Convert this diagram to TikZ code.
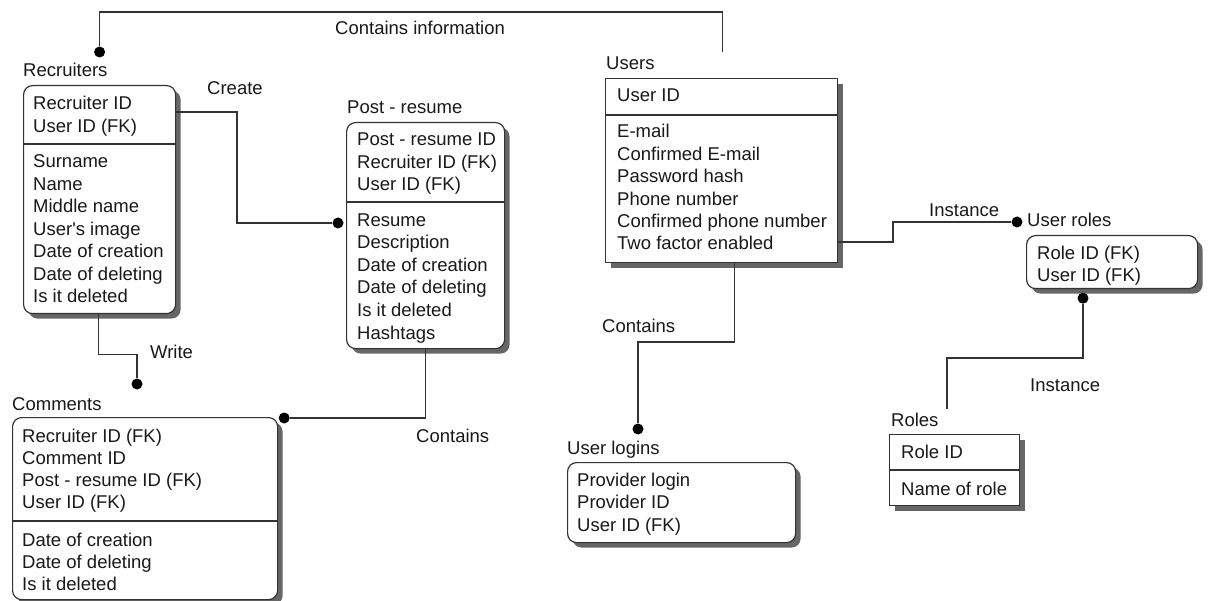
\documentclass[tikz,border=0pt]{standalone}
\usepackage{fontspec}
\setmainfont{Liberation Sans}
\usetikzlibrary{calc,shadows}

\tikzset{
  entity/.style={draw=black!80, line width=1.2pt, fill=white, inner sep=0pt,
    anchor=north west,
    drop shadow={shadow xshift=5pt, shadow yshift=-5pt, fill=black!60, opacity=1}},
  dependent/.style={entity, rounded corners=9pt},
  field/.style={anchor=base west, inner sep=0pt,
    font=\fontsize{18.5}{22.5}\selectfont, text=black!90},
  entname/.style={field},
  divider/.style={draw=black!80, line width=1.2pt},
  rel/.style={draw=black!80, line width=1.2pt},
  conndot/.style={circle, fill=black, inner sep=0pt, minimum size=11pt},
}

\begin{document}
\begin{tikzpicture}[x=1pt, y=-1pt]
\useasboundingbox (0,0) rectangle (1220,601);
\fill[white] (0,0) rectangle (1220,601);

% ---------- entity boxes ----------
\node[dependent, minimum width=152pt, minimum height=228pt] (rec)   at (23,85)   {};
\node[dependent, minimum width=158pt, minimum height=226pt] (post)  at (346,122)  {};
\node[entity,    minimum width=232pt, minimum height=184pt] (users) at (605,78)   {};
\node[dependent, minimum width=265pt, minimum height=182pt] (com)   at (12,417)   {};
\node[dependent, minimum width=228pt, minimum height=80pt]  (log)   at (567,462)  {};
\node[dependent, minimum width=171pt, minimum height=53pt]  (ur)    at (1026,235) {};
\node[entity,    minimum width=130pt, minimum height=71pt]  (roles) at (889,434)  {};

% key / attribute separators
\draw[divider] (rec.west |- 0,144)   -- (rec.east |- 0,144);
\draw[divider] (post.west |- 0,202)  -- (post.east |- 0,202);
\draw[divider] (users.west |- 0,115) -- (users.east |- 0,115);
\draw[divider] (com.west |- 0,521)   -- (com.east |- 0,521);
\draw[divider] (roles.west |- 0,470) -- (roles.east |- 0,470);

% ---------- entity names ----------
\node[entname] (rec-name)   at (23,77)    {Recruiters};
\node[entname] (post-name)  at (347,114)  {Post - resume};
\node[entname] (users-name) at (606,70)   {Users};
\node[entname] (com-name)   at (12,410)   {Comments};
\node[entname] (log-name)   at (567,454)  {User logins};
\node[entname] (ur-name)    at (1027,226.5) {User roles};
\node[entname] (roles-name) at (891,426)  {Roles};

% ---------- fields ----------
\foreach \t [count=\i] in {Recruiter ID,User ID (FK)}
  \node[field] (rec-k\i) at (33,{110+23*(\i-1)}) {\t};
\foreach \t [count=\i] in {Surname,Name,Middle name,User\textquotesingle s image,Date of creation,Date of deleting,Is it deleted}
  \node[field] (rec-a\i) at (33,{168+22.5*(\i-1)}) {\t};

\foreach \t [count=\i] in {Post - resume ID,Recruiter ID (FK),User ID (FK)}
  \node[field] (post-k\i) at (357,{146+22.5*(\i-1)}) {\t};
\foreach \t [count=\i] in {Resume,Description,Date of creation,Date of deleting,Is it deleted,Hashtags}
  \node[field] (post-a\i) at (357,{226.5+22.5*(\i-1)}) {\t};

\node[field] (users-k1) at (617,101.5) {User ID};
\foreach \t [count=\i] in {E-mail,Confirmed E-mail,Password hash,Phone number,Confirmed phone number,Two factor enabled}
  \node[field] (users-a\i) at (617,{138+22.4*(\i-1)}) {\t};

\foreach \t [count=\i] in {Recruiter ID (FK),Comment ID,Post - resume ID (FK),User ID (FK)}
  \node[field] (com-k\i) at (22,{442+22.3*(\i-1)}) {\t};
\foreach \t [count=\i] in {Date of creation,Date of deleting,Is it deleted}
  \node[field] (com-a\i) at (22,{546+22.3*(\i-1)}) {\t};

\foreach \t [count=\i] in {Provider login,Provider ID,User ID (FK)}
  \node[field] (log-k\i) at (577,{486.5+22.3*(\i-1)}) {\t};

\foreach \t [count=\i] in {Role ID (FK),User ID (FK)}
  \node[field] (ur-k\i) at (1037,{260+22*(\i-1)}) {\t};

\node[field] (roles-k1) at (901,458) {Role ID};
\node[field] (roles-a1) at (901,495) {Name of role};

% ---------- connector end points ----------
\node[conndot] (d-rec)   at ($(rec.north)+(0,-33)$) {};
\node[conndot] (d-post)  at ($(post.north west)+(-8,101)$) {};
\node[conndot] (d-com-w) at ($(com.north west)+(125,-33)$) {};
\node[conndot] (d-com-e) at ($(com.north east)+(6,1)$) {};
\node[conndot] (d-log)   at ($(log.north west)+(71,-33)$) {};
\node[conndot] (d-ur)    at ($(ur.north west)+(-9,-13)$) {};
\node[conndot] (d-ur-s)  at ($(ur.south west)+(57,9)$) {};
\coordinate (u-top) at ($(users.north)+(1,-26)$);
\coordinate (r-top) at ($(roles.north west)+(58,-25)$);

% ---------- relationships ----------
\draw[rel] (u-top) |- ($(d-rec)+(0,-40)$) -- (d-rec);
\draw[rel] ($(rec.north east)+(0,27)$) -| ($(d-post)+(-101,0)$) -- (d-post);
\draw[rel] ($(rec.south)+(-1,0)$) -- ($(rec.south)+(-1,40)$) -| (d-com-w);
\draw[rel] (post.south) |- (d-com-e);
\draw[rel] ($(users.south)+(13,0)$) |- ($(d-log)+(0,-87)$) -- (d-log);
\draw[rel] ($(users.north east)+(0,164)$) -| ($(d-ur)+(-124,0)$) -- (d-ur);
\draw[rel] (d-ur-s) |- ($(r-top)+(0,-51)$) -- (r-top);

% ---------- relationship names ----------
\node[field] (l-info)   at (335,35)  {Contains information};
\node[field] (l-create) at (207,95)  {Create};
\node[field] (l-write)  at (150,359) {Write};
\node[field] (l-cont1)  at (416,442) {Contains};
\node[field] (l-cont2)  at (602,333) {Contains};
\node[field] (l-inst1)  at (929,217) {Instance};
\node[field] (l-inst2)  at (1030,391) {Instance};
\end{tikzpicture}
\end{document}
